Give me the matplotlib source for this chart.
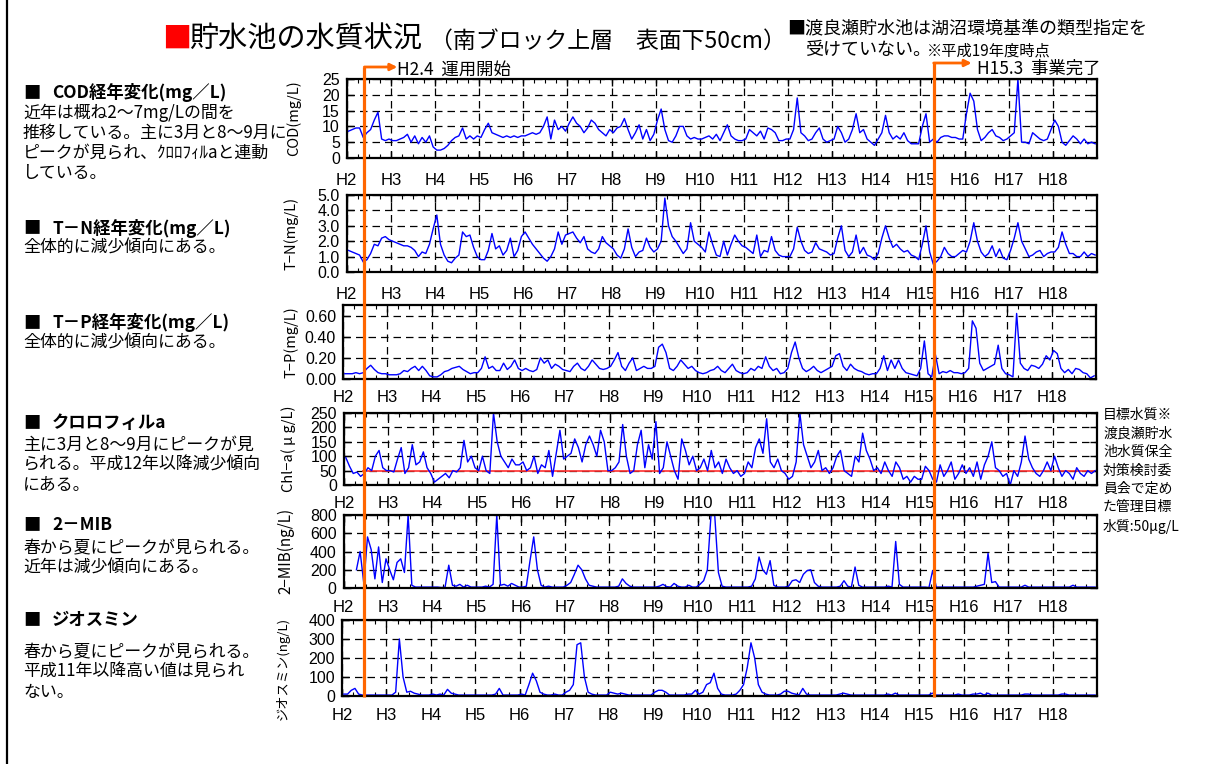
import numpy as np
import matplotlib
matplotlib.use('Agg')
import matplotlib.pyplot as plt
from matplotlib.lines import Line2D
from matplotlib.patches import FancyArrowPatch
from matplotlib import font_manager

# ---------------- data (monthly readings, H2 Jan .. H18 Dec) ----------------
year_ticks = list(range(2, 19))
year_labels = ['H%d' % y for y in year_ticks]

cod = [
    8.5, 9, 9.5, 9.5, 6.5, 8, 9, 12, 14.5, 6, 5.5, 6,
    5.5, 5.5, 6, 6.5, 7.5, 5, 7, 4.5, 6.5, 5, 7, 3.5,
    2.5, 2.5, 3, 4, 5.5, 6.5, 7, 9.5, 6, 7, 6, 7,
    6.5, 9, 11, 8, 7.5, 7, 6.5, 7, 6.5, 7, 6.5, 7,
    7, 7.5, 8, 7.5, 8, 10, 13, 6, 12, 9, 10, 8.5,
    11, 13, 11, 10, 8, 9.5, 12, 11, 9, 8, 7, 9,
    8, 9.5, 10, 12.5, 9, 6, 8, 10.5, 6, 9, 5.5, 7.5,
    12, 15.5, 9, 5.5, 5, 7, 10, 10, 7, 6, 6.5, 6,
    6, 6.5, 7, 6, 7.5, 5.5, 8, 10.5, 7, 6, 5.5, 5.5,
    6, 9, 8, 7, 8.5, 6, 9.5, 9, 8, 5.5, 5.5, 6,
    6, 9, 19, 8, 7, 5.5, 6, 8, 9.5, 6, 5, 5.5,
    6, 10, 8, 5, 6, 9, 14, 8, 9, 6, 5, 4,
    6, 8, 13.5, 8, 6, 7, 6, 8, 5.5, 4.5, 4.5, 4.5,
    10, 14, 5, 6, 5, 6.5, 7, 7, 6.5, 6.5, 6, 6,
    14, 20.5, 18, 9, 5.5, 6.5, 8, 9, 7, 6.5, 5.5, 6,
    7, 8, 25, 5, 5, 4.5, 8, 7, 6, 5.5, 6, 9,
    12, 10, 5, 4, 5.5, 7, 6, 4.5, 6, 4.5, 5, 4.5,
]

tn = [
    1.4, 1.3, 1.2, 1.1, 0.65, 0.8, 1.2, 1.8, 1.7, 2.2, 2.3, 2.1,
    2.0, 1.9, 1.8, 1.7, 1.7, 1.6, 1.4, 1.0, 1.3, 1.2, 1.8, 2.8,
    3.7, 1.8, 1.1, 0.7, 0.6, 0.9, 1.1, 2.6, 2.3, 2.4, 1.6, 1.0,
    0.8, 0.8, 1.4, 2.5, 1.5, 1.7, 1.1, 1.4, 2.2, 1.0, 1.4, 2.3,
    2.6, 2.2, 1.8, 1.5, 1.2, 0.9, 0.7, 1.0, 1.5, 2.6, 1.8, 2.4,
    2.5, 2.6, 2.2, 1.9, 2.3, 1.5, 1.3, 1.2, 1.5, 2.3, 1.9, 1.7,
    1.5, 1.1, 0.9, 1.5, 2.8, 1.6, 1.0, 1.3, 1.4, 2.2, 1.6, 1.3,
    1.5, 2.0, 4.8, 3.0, 2.3, 2.0, 1.6, 1.2, 1.5, 3.2, 2.0, 1.8,
    1.6, 1.3, 2.6, 1.8, 1.1, 1.0, 2.0, 1.1, 1.8, 2.4, 2.0, 1.7,
    1.6, 1.4, 1.2, 2.4, 1.0, 1.4, 1.3, 2.3, 1.4, 1.1, 1.0, 1.0,
    1.0, 1.5, 2.9, 2.0, 1.4, 1.2, 1.3, 1.9, 1.5, 1.4, 1.3, 1.1,
    1.2, 2.2, 3.0, 1.4, 1.0, 1.3, 2.4, 1.2, 1.6, 1.1, 1.0, 0.8,
    1.2, 2.2, 3.0, 2.2, 1.6, 1.8, 1.5, 1.3, 1.4, 1.1, 1.0, 0.8,
    1.8, 3.0, 1.3, 0.5, 0.7, 1.0, 1.6, 1.2, 1.0, 1.0, 1.2, 1.4,
    1.3, 2.0, 3.2, 2.0, 1.3, 1.0, 1.2, 1.7, 1.0, 1.5, 0.9, 0.8,
    1.4, 2.2, 3.2, 2.0, 1.5, 1.0, 1.1, 1.3, 1.4, 1.0, 1.2, 1.3,
    1.3, 1.6, 2.6, 1.8, 1.2, 1.2, 1.0, 1.0, 1.3, 1.0, 1.2, 1.1,
]

tp = [
    0.05, 0.05, 0.05, 0.06, 0.05, 0.06, 0.10, 0.13, 0.09, 0.06, 0.05, 0.05,
    0.04, 0.04, 0.04, 0.05, 0.08, 0.07, 0.10, 0.12, 0.08, 0.12, 0.08, 0.03,
    0.02, 0.02, 0.04, 0.07, 0.08, 0.10, 0.11, 0.12, 0.09, 0.07, 0.05, 0.06,
    0.06, 0.10, 0.21, 0.10, 0.12, 0.08, 0.08, 0.15, 0.09, 0.12, 0.18, 0.10,
    0.08, 0.10, 0.08, 0.07, 0.09, 0.20, 0.15, 0.18, 0.10, 0.14, 0.12, 0.09,
    0.08, 0.07, 0.12, 0.15, 0.10, 0.08, 0.12, 0.18, 0.14, 0.10, 0.09, 0.10,
    0.12, 0.18, 0.25, 0.12, 0.08, 0.15, 0.20, 0.08, 0.10, 0.12, 0.10, 0.10,
    0.12, 0.30, 0.33, 0.25, 0.10, 0.08, 0.12, 0.18, 0.14, 0.10, 0.12, 0.08,
    0.06, 0.05, 0.06, 0.08, 0.09, 0.12, 0.08, 0.06, 0.10, 0.14, 0.08, 0.06,
    0.05, 0.06, 0.10, 0.08, 0.12, 0.10, 0.21, 0.12, 0.08, 0.10, 0.05, 0.06,
    0.10, 0.25, 0.35, 0.20, 0.10, 0.07, 0.09, 0.12, 0.08, 0.06, 0.08, 0.10,
    0.12, 0.22, 0.24, 0.12, 0.08, 0.14, 0.10, 0.08, 0.07, 0.05, 0.04, 0.05,
    0.05, 0.10, 0.22, 0.08, 0.18, 0.10, 0.18, 0.10, 0.06, 0.05, 0.04, 0.03,
    0.10, 0.36, 0.05, 0.02, 0.23, 0.05, 0.07, 0.06, 0.08, 0.06, 0.06, 0.05,
    0.06, 0.10, 0.55, 0.48, 0.15, 0.08, 0.10, 0.12, 0.14, 0.32, 0.10, 0.05,
    0.04, 0.02, 0.62, 0.15, 0.10, 0.08, 0.13, 0.12, 0.10, 0.14, 0.22, 0.18,
    0.27, 0.24, 0.10, 0.06, 0.09, 0.05, 0.10, 0.09, 0.06, 0.05, 0.01, 0.03,
]

chla = [
    95, 65, 40, 45, 30, 40, 60, 50, 100, 120, 60, 50,
    50, 45, 90, 130, 40, 60, 140, 70, 80, 115, 60, 40,
    10, 20, 30, 40, 25, 50, 45, 60, 155, 80, 100, 60,
    50, 100, 50, 40, 250, 150, 100, 80, 60, 90, 70, 70,
    80, 50, 60, 100, 40, 70, 60, 120, 30, 110, 190, 90,
    100, 110, 160, 130, 80, 140, 170, 140, 100, 190, 150, 50,
    50, 60, 80, 210, 100, 40, 50, 140, 190, 60, 140, 90,
    220, 40, 60, 150, 100, 50, 20, 160, 120, 70, 100, 50,
    60, 90, 50, 120, 60, 80, 40, 90, 60, 40, 50, 30,
    40, 80, 60, 130, 160, 110, 230, 80, 60, 90, 50, 40,
    20, 30, 80, 250, 140, 100, 60, 80, 120, 50, 60, 40,
    60, 100, 120, 50, 40, 30, 100, 80, 180, 120, 90, 50,
    60, 40, 80, 50, 30, 80, 60, 20, 30, 10, 30, 20,
    20, 65, 50, 20, 10, 70, 30, 50, 80, 20, 40, 70,
    40, 60, 30, 80, 20, 70, 100, 150, 60, 50, 30, 40,
    0, 50, 30, 80, 170, 90, 60, 40, 30, 50, 80, 50,
    100, 60, 30, 50, 40, 20, 60, 40, 30, 50, 40, 50,
]
chla_target = 50

mib = [
    np.nan, np.nan, np.nan, 200, 400, 50, 560, 420, 100, 450, 60, 320,
    200, 90, 280, 320, 170, 800, 30, 10, 10, 10, 10, 10,
    10, 10, 5, 10, 250, 30, 20, 40, 10, 30, 10, 10,
    10, 10, 20, 10, 40, 800, 30, 40, 20, 50, 30, 10,
    10, 20, 300, 560, 200, 30, 10, 20, 10, 10, 10, 10,
    30, 60, 150, 250, 200, 100, 30, 20, 10, 10, 10, 10,
    10, 10, 20, 100, 50, 20, 10, 10, 10, 10, 10, 10,
    10, 20, 40, 15, 10, 50, 20, 10, 10, 30, 10, 10,
    40, 80, 200, 800, 800, 170, 20, 10, 10, 10, 10, 10,
    10, 10, 20, 100, 340, 200, 150, 300, 30, 10, 10, 10,
    20, 80, 90, 60, 150, 190, 200, 60, 20, 10, 10, 10,
    10, 10, 20, 80, 20, 10, 230, 30, 10, 10, 10, 10,
    10, 10, 10, 20, 10, 510, 40, 10, 10, 10, 10, 10,
    10, 10, 5, 190, 10, 10, 10, 10, 10, 10, 10, 10,
    10, 10, 10, 20, 30, 40, 380, 60, 70, 10, 10, 10,
    10, 10, 10, 10, 30, 10, 10, 10, 10, 10, 10, 10,
    10, 10, 10, 10, 10, 30, 10, 10, 10, 10, 10, 10,
]

geo = [
    10, 10, 30, 40, 10, 5, 5, 5, 5, 5, 5, 5,
    5, 5, 20, 300, 100, 20, 25, 15, 10, 5, 5, 5,
    10, 5, 10, 5, 35, 15, 10, 5, 5, 5, 5, 5,
    5, 5, 5, 5, 5, 10, 40, 5, 5, 5, 5, 5,
    10, 5, 60, 120, 80, 20, 10, 5, 5, 10, 5, 5,
    20, 30, 60, 270, 280, 100, 20, 10, 5, 5, 5, 5,
    20, 15, 10, 15, 10, 5, 5, 5, 5, 5, 5, 5,
    20, 30, 30, 20, 5, 5, 5, 5, 5, 10, 10, 30,
    10, 20, 60, 70, 120, 40, 10, 5, 5, 5, 10, 30,
    60, 150, 280, 200, 60, 20, 10, 5, 5, 5, 10, 25,
    25, 15, 10, 5, 40, 10, 5, 5, 5, 5, 5, 5,
    5, 5, 10, 15, 10, 5, 5, 5, 5, 5, 5, 5,
    5, 5, 5, 10, 5, 15, 5, 5, 5, 5, 5, 5,
    5, 5, 5, 15, 5, 5, 5, 5, 5, 5, 10, 5,
    5, 5, 10, 10, 15, 5, 15, 5, 5, 5, 5, 5,
    5, 5, 5, 5, 10, 10, 5, 5, 5, 5, 5, 5,
    5, 5, 10, 10, 5, 5, 5, 5, 5, 5, 5, 5,
]

start_year = 2
event_start = 2.4     # H2.4 運用開始
event_end = 15.3      # H15.3 事業完了

# ---------------- figure ----------------
W, H = 1214, 764
fig = plt.figure(figsize=(W / 100, H / 100), dpi=100)
JP = ['Noto Sans CJK JP', 'DejaVu Sans']
plt.rcParams['font.family'] = JP
names = {f.name for f in font_manager.fontManager.ttflist}
NARROW = ['Liberation Sans Narrow', 'Noto Sans CJK JP'] if 'Liberation Sans Narrow' in names else ['Liberation Sans', 'Noto Sans CJK JP']


def fy(y):
    return 1 - y / H


def px_axes(l, t, r, b):
    return fig.add_axes([l / W, 1 - b / H, (r - l) / W, (b - t) / H])


def month_x(vals):
    return start_year + (np.arange(len(vals)) + 0.5) / 12.0


panels = [
    (cod, (346.7, 79, 1097, 158), 25, [0, 5, 10, 15, 20, 25], '{:.0f}', 'COD(mg/L)', 294, 118, 11, 10.5),
    (tn, (346.7, 195, 1097, 272), 5.0, [0, 1, 2, 3, 4, 5], '{:.1f}', 'T−N(mg/L)', 291, 233, 11, 10.5),
    (tp, (343, 305, 1096, 379), 0.70, [0, 0.2, 0.4, 0.6], '{:.2f}', 'T−P(mg/L)', 291, 342, 8, 10.5),
    (chla, (344, 413, 1097, 485), 250, [0, 50, 100, 150, 200, 250], '{:.0f}', 'Chl−a( μ g/L)', 289, 449, 8, 10.5),
    (mib, (343.5, 515, 1097, 588), 800, [0, 200, 400, 600, 800], '{:.0f}', '2−MIB(ng/L)', 286, 551, 9, 11),
    (geo, (342, 620, 1097, 696), 400, [0, 100, 200, 300, 400], '{:.0f}', 'ジオスミン(ng/L)', 283, 668, 9, 9.5),
]

axes = []
for i, (vals, box, ymax, yt, fmt, ylab, ylx, yly, xpad, ylfs) in enumerate(panels):
    ax = px_axes(*box)
    axes.append(ax)
    ax.plot(month_x(vals), vals, color='#0000FF', lw=1.0, zorder=3)
    ax.set_xlim(2, 19)
    ax.set_ylim(0, ymax)
    ax.set_xticks(year_ticks)
    ax.set_xticklabels(year_labels, fontfamily=NARROW, fontsize=12)
    ax.set_xticks(np.arange(2, 19.01, 0.25), minor=True)
    ax.tick_params(axis='x', which='major', direction='in', top=True, bottom=True,
                   length=5, width=1, pad=xpad)
    ax.tick_params(axis='x', which='minor', direction='in', top=True, bottom=True,
                   length=3, width=0.8)
    ax.set_yticks(yt)
    ax.set_yticklabels([fmt.format(v) for v in yt], fontfamily=NARROW, fontsize=11.5)
    ax.tick_params(axis='y', direction='in', left=True, right=True, length=5, width=1, pad=5)
    ax.grid(True, which='major', color='black', lw=0.9, ls=(0, (6, 4)), zorder=1)
    for sp in ax.spines.values():
        sp.set_linewidth(1.6)
        sp.set_zorder(4)
    fig.text(ylx / W, fy(yly), ylab, rotation=90, ha='center', va='center', fontsize=ylfs)
    if vals is chla:
        ax.hlines(chla_target, event_start, 18.95, color='#FF3030', lw=1.2, zorder=2)

# ---------------- orange event markers ----------------
ORANGE = '#FF6600'
ax0 = axes[0]
for ev, ytop, text, tx, ty, alen in [(event_start, 67, 'H2.4  運用開始', 397, 70, 33),
                                      (event_end, 63, 'H15.3  事業完了', 977, 69, 38)]:
    xpix = ax0.transData.transform((ev, 0))[0]
    fig.add_artist(Line2D([xpix / W, xpix / W], [fy(ytop), fy(697)], transform=fig.transFigure,
                          color=ORANGE, lw=2.3, zorder=10, solid_capstyle='butt'))
    fig.add_artist(FancyArrowPatch((xpix / W, fy(ytop)), ((xpix + alen) / W, fy(ytop)),
                                   transform=fig.transFigure, arrowstyle='-|>', mutation_scale=10,
                                   color=ORANGE, lw=2.0, zorder=10, shrinkA=0, shrinkB=0))
    fig.text(tx / W, fy(ty), text, ha='left', va='center', fontsize=12.5)

# ---------------- title & notes ----------------
fig.text(162 / W, fy(40), '■', color='#FF0000', fontsize=21, ha='left', va='center')
fig.text(189 / W, fy(40), '貯水池の水質状況', fontsize=21, ha='left', va='center')
fig.text(430 / W, fy(42), '（南ブロック上層　表面下50cm）', fontsize=16.5, ha='left', va='center')

fig.text(787 / W, fy(28), '■渡良瀬貯水池は湖沼環境基準の類型指定を', fontsize=13, ha='left', va='center')
fig.text(805 / W, fy(50), '受けていない。', fontsize=13, ha='left', va='center')
fig.text(927 / W, fy(51), '※平成19年度時点', fontsize=11, ha='left', va='center')

note_lines = ['目標水質※', '渡良瀬貯水', '池水質保全', '対策検討委', '員会で定め', 'た管理目標', '水質:50μg/L']
for k, s in enumerate(note_lines):
    fig.text(1103 / W, fy(415 + k * 18.5), s, fontsize=10, ha='left', va='center')

# left-hand commentary
heads = [(93, 'COD経年変化(mg／L)'), (228, 'T－N経年変化(mg／L)'),
         (323, 'T－P経年変化(mg／L)'), (423, 'クロロフィルa'),
         (525, '2－MIB'), (620, 'ジオスミン')]
for y, s in heads:
    fig.text(23 / W, fy(y), '■', fontsize=12.5, ha='left', va='center')
    fig.text(52 / W, fy(y), s, fontsize=12.5, fontweight='bold', ha='left', va='center')

body = [(113, '近年は概ね2～7mg/Lの間を'), (133, '推移している。主に3月と8～9月に'),
        (153, 'ピークが見られ、ｸﾛﾛﾌｨﾙaと連動'), (173, 'している。'),
        (248, '全体的に減少傾向にある。'), (343, '全体的に減少傾向にある。'),
        (445, '主に3月と8～9月にピークが見'), (465, 'られる。平成12年以降減少傾向'), (485, 'にある。'),
        (548, '春から夏にピークが見られる。'), (568, '近年は減少傾向にある。'),
        (652, '春から夏にピークが見られる。'), (672, '平成11年以降高い値は見られ'), (692, 'ない。')]
for y, s in body:
    fig.text(23 / W, fy(y), s, fontsize=12.2, ha='left', va='center')

# left border line
fig.add_artist(Line2D([7 / W, 7 / W], [0, 1], transform=fig.transFigure, color='black', lw=1.6))

fig.savefig('out.png', dpi=100)
